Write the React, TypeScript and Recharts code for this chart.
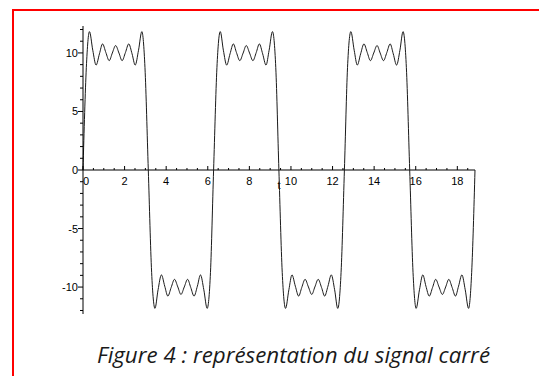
import React from "react"
import { LineChart, Line, XAxis, YAxis, ReferenceLine } from "recharts"

// time samples (s)
const T = [
  0.0, 0.16, 0.31, 0.47, 0.63, 0.79, 0.94, 1.1, 1.26, 1.41, 1.57, 1.73, 1.88, 2.04, 2.2, 2.36, 2.51, 2.67, 2.83, 2.98,
  3.14, 3.3, 3.46, 3.61, 3.77, 3.93, 4.08, 4.24, 4.4, 4.56, 4.71, 4.87, 5.03, 5.18, 5.34, 5.5, 5.65, 5.81, 5.97, 6.13,
  6.28, 6.44, 6.6, 6.75, 6.91, 7.07, 7.23, 7.38, 7.54, 7.7, 7.85, 8.01, 8.17, 8.33, 8.48, 8.64, 8.8, 8.95, 9.11, 9.27,
  9.42, 9.58, 9.74, 9.9, 10.05, 10.21, 10.37, 10.52, 10.68, 10.84, 11.0, 11.15, 11.31, 11.47, 11.62, 11.78, 11.94, 12.1, 12.25, 12.41,
  12.57, 12.72, 12.88, 13.04, 13.19, 13.35, 13.51, 13.67, 13.82, 13.98, 14.14, 14.29, 14.45, 14.61, 14.77, 14.92, 15.08, 15.24, 15.39, 15.55,
  15.71, 15.87, 16.02, 16.18, 16.34, 16.49, 16.65, 16.81, 16.96, 17.12, 17.28, 17.44, 17.59, 17.75, 17.91, 18.06, 18.22, 18.38, 18.54, 18.69,
  18.85,
]

// signal value at each sample
const SIGNAL = [
  0, 8.74, 11.82, 10.23, 8.96, 9.92, 10.77, 10.03, 9.34, 9.99, 10.63, 9.99, 9.34, 10.03, 10.77, 9.92, 8.96, 10.23, 11.82, 8.74,
  0, -8.74, -11.82, -10.23, -8.96, -9.92, -10.77, -10.03, -9.34, -9.99, -10.63, -9.99, -9.34, -10.03, -10.77, -9.92, -8.96, -10.23, -11.82, -8.74,
  0, 8.74, 11.82, 10.23, 8.96, 9.92, 10.77, 10.03, 9.34, 9.99, 10.63, 9.99, 9.34, 10.03, 10.77, 9.92, 8.96, 10.23, 11.82, 8.74,
  0, -8.74, -11.82, -10.23, -8.96, -9.92, -10.77, -10.03, -9.34, -9.99, -10.63, -9.99, -9.34, -10.03, -10.77, -9.92, -8.96, -10.23, -11.82, -8.74,
  0, 8.74, 11.82, 10.23, 8.96, 9.92, 10.77, 10.03, 9.34, 9.99, 10.63, 9.99, 9.34, 10.03, 10.77, 9.92, 8.96, 10.23, 11.82, 8.74,
  0, -8.74, -11.82, -10.23, -8.96, -9.92, -10.77, -10.03, -9.34, -9.99, -10.63, -9.99, -9.34, -10.03, -10.77, -9.92, -8.96, -10.23, -11.82, -8.74,
  0,
]

const X_TICKS = [
  0, 0.5, 1, 1.5, 2, 2.5, 3, 3.5, 4, 4.5, 5, 5.5, 6, 6.5, 7, 7.5, 8, 8.5, 9, 9.5,
  10, 10.5, 11, 11.5, 12, 12.5, 13, 13.5, 14, 14.5, 15, 15.5, 16, 16.5, 17, 17.5, 18, 18.5,
]
const X_LABELS = [0, 2, 4, 6, 8, 10, 12, 14, 16, 18]
const Y_TICKS = [-12, -11, -10, -9, -8, -7, -6, -5, -4, -3, -2, -1, 0, 1, 2, 3, 4, 5, 6, 7, 8, 9, 10, 11, 12]
const Y_LABELS = [-10, -5, 0, 5, 10]

const data = T.map((t, i) => ({ t, s: SIGNAL[i] }))

// layout
const W = 539
const H = 376
const PLOT_LEFT = 83
const PLOT_TOP = 26
const PLOT_W = 392
const PLOT_H = 288
const ZERO_Y = PLOT_TOP + PLOT_H / 2
const FONT = "'Liberation Sans', Arial, sans-serif"

function XTick(props: any) {
  const { x, payload } = props
  const v = payload.value
  const major = X_LABELS.includes(v)
  return (
    <g>
      <line x1={x} x2={x} y1={ZERO_Y} y2={ZERO_Y - (major ? 4 : 2)} stroke="#000" />
      {major && (
        <text x={v === 0 ? x + 3 : x} y={ZERO_Y + 15} textAnchor="middle" fontSize={11} fontFamily={FONT} fill="#000">
          {v}
        </text>
      )}
    </g>
  )
}

function YTick(props: any) {
  const { y, payload } = props
  const v = payload.value
  const major = Y_LABELS.includes(v)
  return (
    <g>
      <line x1={PLOT_LEFT} x2={PLOT_LEFT - (major ? 5 : 3)} y1={y} y2={y} stroke="#000" />
      {major && (
        <text x={PLOT_LEFT - 5} y={y + 4} textAnchor="end" fontSize={11} fontFamily={FONT} fill="#000">
          {v}
        </text>
      )}
    </g>
  )
}

function AxisName(props: any) {
  const vb = props.viewBox || {}
  return (
    <text x={vb.x + vb.width / 2} y={vb.y + 19} textAnchor="middle" fontSize={11} fontFamily={FONT} fill="#000">
      t
    </text>
  )
}

export default function App() {
  return (
    <div style={{ position: "absolute", left: 0, top: 0, width: W, height: H, overflow: "hidden", background: "#fff" }}>
      <div
        style={{
          position: "absolute",
          left: 12,
          top: 9,
          right: -10,
          bottom: -10,
          borderLeft: "2px solid #ff0000",
          borderTop: "2px solid #ff0000",
        }}
      />
      <div style={{ position: "absolute", left: 0, top: 0 }}>
        <LineChart
          width={W}
          height={H}
          data={data}
          margin={{ top: PLOT_TOP, right: W - PLOT_LEFT - PLOT_W, bottom: H - PLOT_TOP - PLOT_H - 30, left: PLOT_LEFT - 40 }}
        >
          <XAxis
            dataKey="t"
            type="number"
            domain={[0, 18.85]}
            ticks={X_TICKS}
            interval={0}
            height={30}
            axisLine={false}
            tickLine={false}
            tick={(p: any) => <XTick {...p} />}
          />
          <YAxis
            type="number"
            domain={[-12.3, 12.3]}
            ticks={Y_TICKS}
            interval={0}
            width={40}
            axisLine={{ stroke: "#000" }}
            tickLine={false}
            tick={(p: any) => <YTick {...p} />}
          />
          <ReferenceLine y={0} stroke="#000" label={<AxisName />} />
          <Line
            dataKey="s"
            type="monotone"
            stroke="#1a1a1a"
            strokeWidth={1}
            dot={false}
            isAnimationActive={false}
          />
        </LineChart>
      </div>
      <svg width={W} height={H} style={{ position: "absolute", left: 0, top: 0, pointerEvents: "none" }}>
        <text
          x={97}
          y={363}
          fontSize={22}
          fontStyle="italic"
          fontWeight={400}
          fontFamily="'Open Sans', 'Liberation Sans', sans-serif"
          fill="#1a1a1a"
          textLength={393}
          lengthAdjust="spacingAndGlyphs"
        >
          Figure 4 : représentation du signal carré
        </text>
      </svg>
    </div>
  )
}
